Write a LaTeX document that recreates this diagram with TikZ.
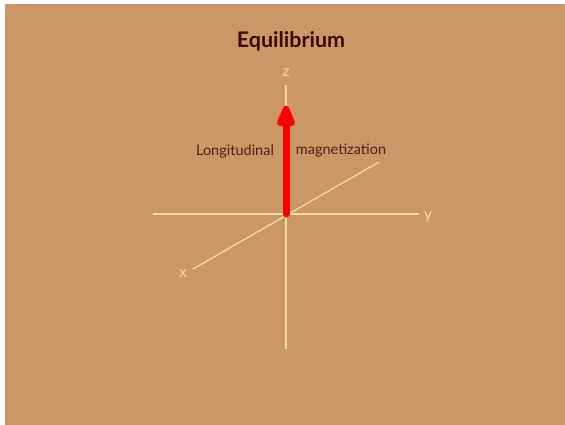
\documentclass[tikz,border=0pt]{standalone}
\usepackage{fontspec}
\setmainfont{Lato}
\usetikzlibrary{arrows.meta}
\definecolor{bg}{RGB}{204,151,102}
\definecolor{axis}{RGB}{242,220,160}
\definecolor{titlec}{RGB}{60,10,5}
\definecolor{labelc}{RGB}{70,35,20}
\begin{document}
\begin{tikzpicture}[x=1pt,y=-1pt,
  axisline/.style={draw=axis,line width=1.3pt},
  axislabel/.style={text=axis,font=\fontsize{15.5}{15.5}\selectfont,inner sep=0pt},
  caption/.style={text=labelc,font=\fontsize{14.5}{14.5}\selectfont,inner sep=0pt}]
\useasboundingbox (0,0) rectangle (565,425);
\fill[white] (0,0) rectangle (565,425);
\fill[bg] (5,4) rectangle (565,425);
\node[text=titlec,font=\bfseries\fontsize{21.5}{21.5}\selectfont,inner sep=0pt] (title) at (291,41) {Equilibrium};
\coordinate (o) at (286,214);
\coordinate (yl) at (153,214);
\coordinate (yr) at (419,214);
\coordinate (zt) at (286,85);
\coordinate (zb) at (286,349);
\coordinate (xu) at (379,162);
\coordinate (xd) at (193,269);
\draw[axisline] (yl) -- (yr);
\draw[axisline] (zt) -- (zb);
\draw[axisline] (xd) -- (xu);
\node[axislabel] (ylab) at (428,217) {y};
\node[axislabel] (zlab) at (286,73) {z};
\node[axislabel] (xlab) at (183,274) {x};
\coordinate (tip) at (286,106);
\draw[red,line width=7pt,line cap=round,-{Triangle[width=19pt,length=27pt,round]}] (o) -- (tip);
\node[caption] (lon) at (235,151) {Longitudinal};
\node[caption] (mag) at (341,151) {magnetization};
\end{tikzpicture}
\end{document}
